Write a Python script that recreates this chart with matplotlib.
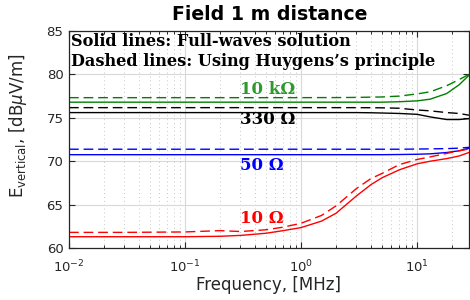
import matplotlib
matplotlib.use('Agg')
import matplotlib.pyplot as plt
import numpy as np
from matplotlib.ticker import LogLocator, MultipleLocator, NullFormatter

# frequency grid, MHz
freq = [0.01, 0.03, 0.1, 0.2, 0.3, 0.5, 0.7, 1, 1.5, 2, 2.5, 3, 4, 5, 7, 10, 13, 18, 23, 28]

# full-wave solution (solid)
g_solid = [76.8, 76.8, 76.8, 76.8, 76.8, 76.8, 76.8, 76.8, 76.8, 76.8, 76.8, 76.8, 76.8, 76.8, 76.85, 76.95, 77.15, 77.8, 78.8, 79.9]
k_solid = [75.6, 75.6, 75.6, 75.6, 75.6, 75.6, 75.6, 75.6, 75.6, 75.6, 75.6, 75.6, 75.58, 75.55, 75.5, 75.4, 75.1, 74.8, 74.8, 74.9]
b_solid = [70.75, 70.75, 70.75, 70.75, 70.75, 70.75, 70.75, 70.75, 70.75, 70.75, 70.75, 70.75, 70.75, 70.75, 70.77, 70.8, 70.85, 71.0, 71.2, 71.5]
r_solid = [61.3, 61.3, 61.3, 61.35, 61.45, 61.7, 62.0, 62.35, 63.1, 64.0, 65.1, 66.0, 67.3, 68.1, 69.0, 69.7, 70.0, 70.3, 70.6, 71.0]

# Huygens's principle (dashed)
g_dash = [77.32, 77.32, 77.32, 77.32, 77.32, 77.32, 77.32, 77.32, 77.33, 77.33, 77.34, 77.35, 77.38, 77.4, 77.5, 77.75, 78.0, 78.7, 79.4, 80.0]
k_dash = [76.17, 76.17, 76.17, 76.17, 76.17, 76.17, 76.17, 76.17, 76.17, 76.17, 76.17, 76.17, 76.16, 76.15, 76.1, 75.9, 75.8, 75.6, 75.5, 75.3]
b_dash = [71.38, 71.38, 71.38, 71.38, 71.38, 71.38, 71.38, 71.38, 71.38, 71.38, 71.38, 71.38, 71.38, 71.38, 71.38, 71.4, 71.42, 71.45, 71.5, 71.6]
r_dash = [61.8, 61.8, 61.85, 62.0, 61.9, 62.1, 62.4, 62.85, 63.75, 64.85, 65.95, 66.85, 68.0, 68.6, 69.6, 70.2, 70.5, 70.9, 71.2, 71.4]

green = '#008000'
series = [(g_solid, g_dash, green), (k_solid, k_dash, 'black'),
          (b_solid, b_dash, '#0000ff'), (r_solid, r_dash, '#ff0000')]

labels = [('10 k\u03a9', 78.3, '#2e9a2e'), ('330 \u03a9', 74.75, 'black'),
          ('50 \u03a9', 69.45, '#0000ff'), ('10 \u03a9', 63.35, '#ff0000')]

fig = plt.figure(figsize=(4.7, 3.0), dpi=100)
ax = fig.add_axes([69/470, 52/300, 400/470, 217/300])

for solid, dash, c in series:
    ax.semilogx(freq, solid, color=c, lw=1.0)
    ax.semilogx(freq, dash, color=c, lw=1.0, linestyle=(0, (7, 3.5)))

ax.set_xlim(0.01, 28)
ax.set_ylim(60, 85)
ax.yaxis.set_major_locator(MultipleLocator(5))
ax.xaxis.set_major_locator(LogLocator(base=10))
ax.xaxis.set_minor_locator(LogLocator(base=10, subs=np.arange(2, 10)))
ax.xaxis.set_minor_formatter(NullFormatter())

ax.grid(True, which='major', color='#d9d9d9', lw=0.8, ls='-')
ax.grid(True, which='minor', axis='x', color='#c8c8c8', lw=0.7, ls=(0, (1, 3)))
ax.set_axisbelow(True)

ax.tick_params(which='both', direction='in', top=True, right=True,
               colors='#262626', labelsize=9.5)
ax.tick_params(which='major', length=4, width=0.8)
ax.tick_params(which='minor', length=2.5, width=0.7)
ax.tick_params(axis='y', pad=4)
ax.tick_params(axis='x', pad=8)
for s in ax.spines.values():
    s.set_color('#262626')
    s.set_linewidth(0.9)

for txt, y, c in labels:
    ax.text(0.3, y, txt, color=c, fontsize=12, fontweight='bold',
            family='DejaVu Serif', ha='left', va='center')

fig.text(71/470, 1 - 42/300, 'Solid lines: Full-waves solution',
         fontsize=11.6, fontweight='bold', family='DejaVu Serif', va='center')
fig.text(71/470, 1 - 61/300, 'Dashed lines: Using Huygens\u2019s principle',
         fontsize=11.6, fontweight='bold', family='DejaVu Serif', va='center')

fig.text(270/470, 1 - 14/300, 'Field 1 m distance', fontsize=13.6,
         fontweight='bold', ha='center', va='center')
fig.text(269/470, 1 - 285/300, 'Frequency, [MHz]', fontsize=12,
         ha='center', va='center', color='#262626')
fig.text(18/470, 1 - 126/300, r'E$_{\mathregular{vertical}}$, [dB$\mu$V/m]',
         fontsize=12, rotation=90, ha='center', va='center', color='#262626')

fig.savefig('out.png', dpi=100)
